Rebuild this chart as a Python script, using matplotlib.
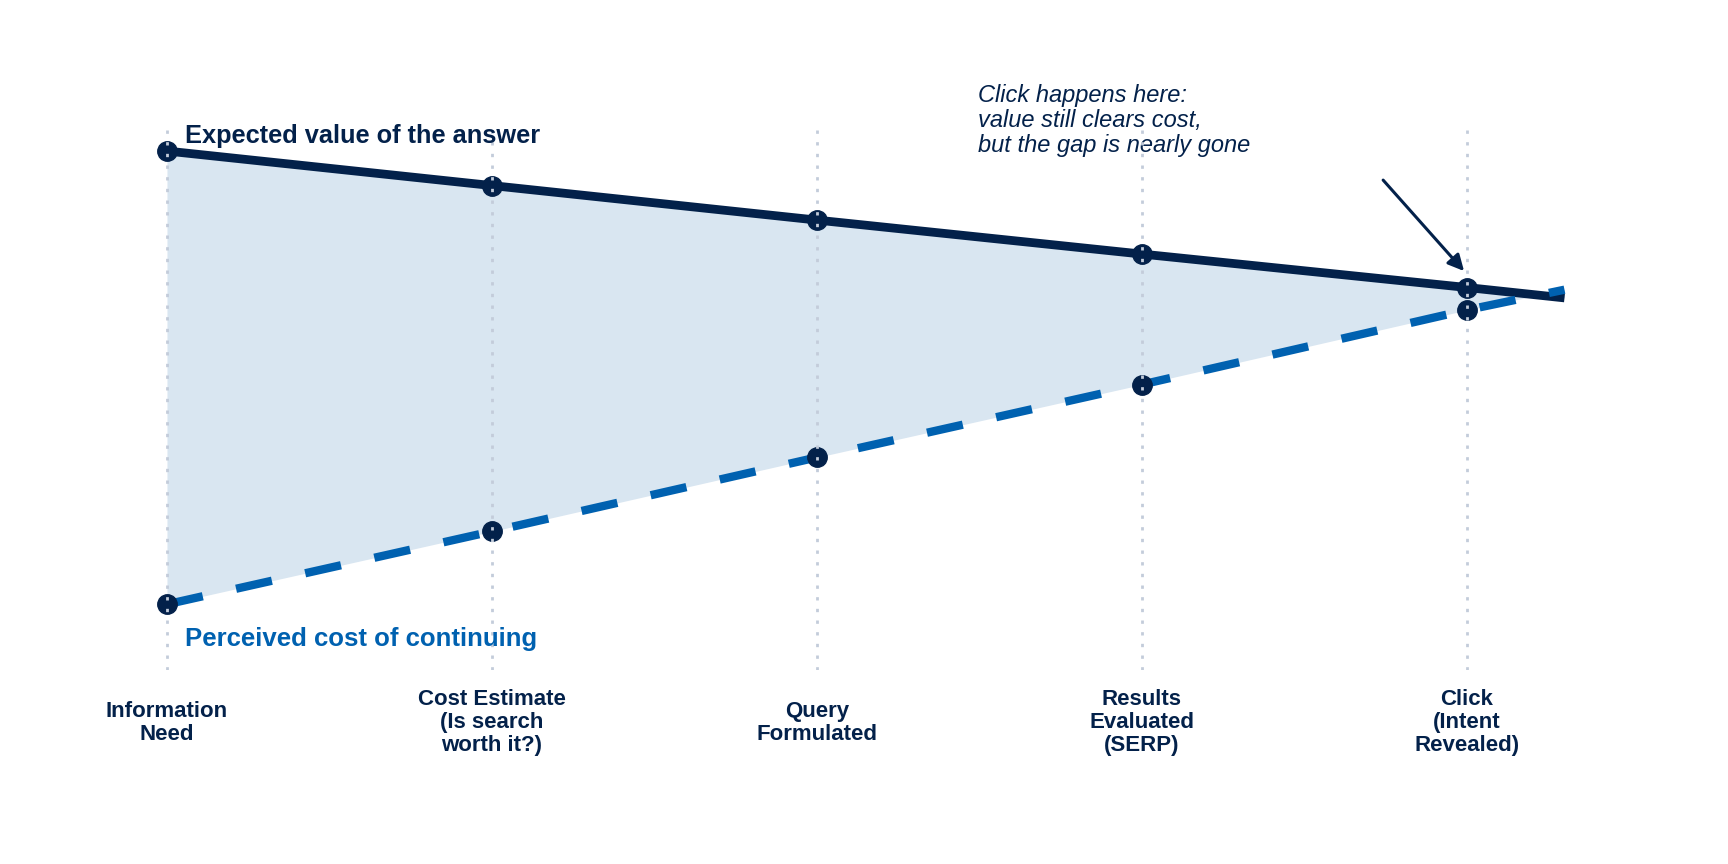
import matplotlib
matplotlib.use("Agg")
import matplotlib.pyplot as plt

# ---- data ----
stages = ["Information\nNeed", "Cost Estimate\n(Is search\nworth it?)", "Query\nFormulated",
          "Results\nEvaluated\n(SERP)", "Click\n(Intent\nRevealed)"]
stage_x = [0, 1, 2, 3, 4]
value = [94.7, 88.4, 82.1, 75.9, 69.8]
cost = [12.0, 25.3, 38.8, 52.1, 65.7]
# lines run a little past the last stage, to where they cross
line_x = [0, 1, 2, 3, 4, 4.3]
value_line = value + [67.9]
cost_line = cost + [69.4]

navy = "#03214a"
blue = "#0061b0"
fill_c = "#d9e6f1"
grid_c = "#c3ccda"

plt.rcParams['font.family'] = ['Liberation Sans', 'DejaVu Sans']

fig = plt.figure(figsize=(17.28, 8.64), dpi=100)
ax = fig.add_axes([0.0308, 0.2245, 0.9404, 0.6343])
ax.set_xlim(-0.35, 4.65)
ax.set_ylim(0, 100)
for s in ax.spines.values():
    s.set_visible(False)
ax.set_yticks([])

ax.fill_between(line_x, value_line, cost_line, color=fill_c, lw=0, zorder=1)
ax.plot(line_x, value_line, color=navy, lw=6.3, zorder=3, solid_capstyle='butt')
ax.plot(line_x, cost_line, color=blue, lw=6, ls=(0, (4.4, 4.1)), zorder=4, dash_capstyle='butt')
ax.plot(stage_x, value, 'o', color=navy, ms=14, zorder=5)
ax.plot(stage_x, cost, 'o', color=navy, ms=14, zorder=5)

for xv in stage_x:
    ax.axvline(xv, color=grid_c, lw=2, ls=(0, (1.2, 3)), zorder=6)

ax.set_xticks(stage_x, labels=stages, fontsize=16, fontweight='bold', color=navy)
ax.tick_params(axis='x', length=0, pad=38)
for lbl in ax.get_xticklabels():
    lbl.set_va('center')
    lbl.set_linespacing(1.12)

ax.text(0.055, 96.2, "Expected value of the answer", fontsize=18.3, fontweight='bold',
        color=navy, va='baseline', ha='left', zorder=7)
ax.text(0.055, 4.4, "Perceived cost of continuing", fontsize=18.5, fontweight='bold',
        color=blue, va='baseline', ha='left', zorder=7)

ax.text(2.495, 107.0, "Click happens here:\nvalue still clears cost,\nbut the gap is nearly gone",
        fontsize=17, style='italic', color=navy, va='top', ha='left',
        linespacing=1.12, clip_on=False)
ax.annotate("", xy=(3.991, 72.8), xytext=(3.742, 89.4),
            arrowprops=dict(arrowstyle='-|>', lw=2.2, color=navy, mutation_scale=24,
                            shrinkA=0, shrinkB=0), zorder=7)

fig.savefig("out.png", dpi=100, facecolor='white')
